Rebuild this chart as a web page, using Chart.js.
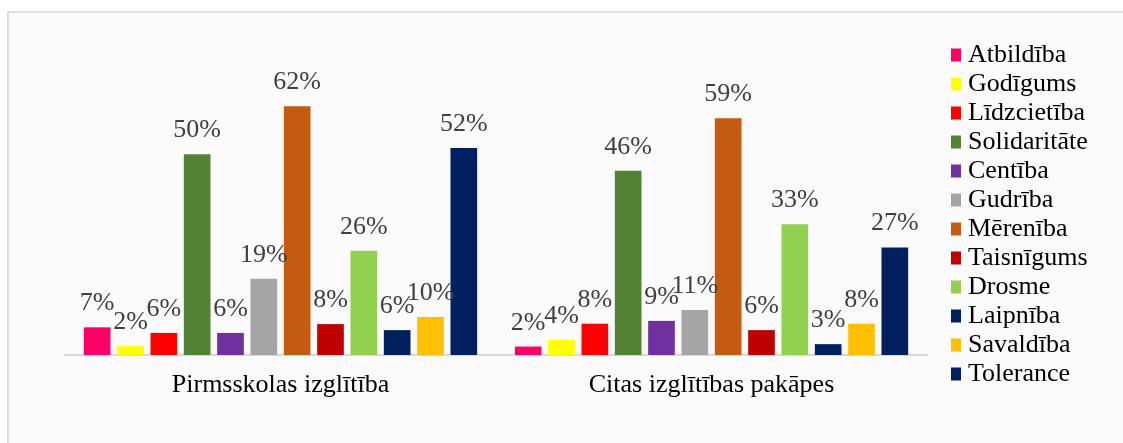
<!DOCTYPE html>
<html>
<head>
<meta charset="utf-8">
<script src="https://cdn.jsdelivr.net/npm/chart.js@4.4.1/dist/chart.umd.min.js"></script>
<style>
  html, body { margin: 0; padding: 0; background: #ffffff; overflow: hidden; }
  #wrap { position: relative; width: 1123px; height: 443px; overflow: hidden; }
  #frame { position: absolute; left: 7px; top: 11px; width: 1200px; height: 500px;
           border-left: 2px solid #dedede; border-top: 2px solid #dedede; background: #fafafa; }
  #c { position: absolute; left: 0; top: 0; }
</style>
</head>
<body>
<div id="wrap">
  <div id="frame"></div>
  <canvas id="c" width="1123" height="443"></canvas>
</div>
<script>
const categories = ['Pirmsskolas izglītība', 'Citas izglītības pakāpes'];
const seriesNames = ['Atbildība', 'Godīgums', 'Līdzcietība', 'Solidaritāte', 'Centība', 'Gudrība',
  'Mērenība', 'Taisnīgums', 'Drosme', 'Laipnība', 'Savaldība', 'Tolerance'];
const seriesColors = ['#FF0066', '#FFFF00', '#FF0000', '#548235', '#7030A0', '#A5A5A5',
  '#C55A11', '#C00000', '#92D050', '#002060', '#FFC000', '#002060'];
// percentages (labels show rounded values)
const preschoolValues = [6.9, 2.2, 5.5, 50, 5.5, 19, 62, 7.7, 26, 6.2, 9.5, 51.6];
const otherLevelValues = [2.1, 3.8, 7.8, 45.9, 8.5, 11.2, 59, 6.2, 32.6, 2.7, 7.8, 26.8];

const FONT = "'Liberation Serif', 'Times New Roman', serif";

const datasets = seriesNames.map((name, i) => ({
  label: name,
  data: [preschoolValues[i], otherLevelValues[i]],
  backgroundColor: seriesColors[i],
  borderWidth: 0,
  categoryPercentage: 0.928,
  barPercentage: 0.8
}));

const mctx = document.createElement('canvas').getContext('2d');
mctx.font = '26px ' + FONT;
const maxText = Math.max(...seriesNames.map(n => mctx.measureText(n).width));
const legendWidth = 3 + (1 + 13 + maxText) + 10;
const rightPad = Math.max(0, 1123 - 951 - legendWidth);

const valueLabels = {
  id: 'valueLabels',
  afterDatasetsDraw(chart) {
    const ctx = chart.ctx;
    ctx.save();
    ctx.font = '26px ' + FONT;
    ctx.fillStyle = '#404040';
    ctx.textAlign = 'center';
    ctx.textBaseline = 'alphabetic';
    chart.data.datasets.forEach((ds, i) => {
      chart.getDatasetMeta(i).data.forEach((bar, j) => {
        ctx.fillText(Math.round(ds.data[j]) + '%', bar.x, bar.y - 17);
      });
    });
    ctx.restore();
  }
};

new Chart(document.getElementById('c'), {
  type: 'bar',
  data: { labels: categories, datasets },
  options: {
    responsive: false,
    animation: false,
    layout: { padding: { left: 65, top: 39, right: rightPad, bottom: 0 } },
    scales: {
      x: {
        grid: { display: false, drawTicks: false },
        border: { display: true, color: '#d9d9d9', width: 2 },
        ticks: { color: '#000000', font: { family: FONT, size: 26 }, padding: 15 },
        afterFit: s => { s.height = 88; }
      },
      y: { display: false, min: 0, max: 78.75 },
      yRight: {
        position: 'right', display: true,
        grid: { display: false, drawTicks: false },
        border: { display: false },
        ticks: { display: false },
        afterFit: s => { s.width = 24; }
      }
    },
    plugins: {
      legend: {
        position: 'right',
        align: 'start',
        labels: {
          usePointStyle: true,
          pointStyle: 'rect',
          boxWidth: 1,
          boxHeight: 13,
          padding: 3,
          color: '#000000',
          font: { family: FONT, size: 26 }
        }
      },
      tooltip: { enabled: false }
    }
  },
  plugins: [valueLabels]
});
</script>
</body>
</html>
